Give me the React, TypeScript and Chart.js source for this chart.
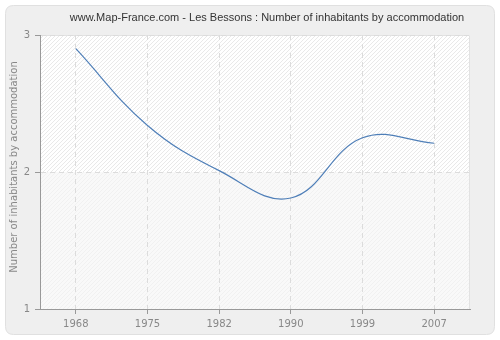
import React, { useEffect, useRef } from "react";
import { Chart, registerables } from "chart.js";

Chart.register(...registerables);

const TITLE = "www.Map-France.com - Les Bessons : Number of inhabitants by accommodation";
const Y_TITLE = "Number of inhabitants by accommodation";
const years = ["1968", "1975", "1982", "1990", "1999", "2007"];
const values = [2.9, 2.34, 2.01, 1.81, 2.25, 2.21];
const yTicks = [1, 2, 3];

const decorPlugin = {
  id: "decor",
  beforeDraw(chart: any) {
    const { ctx, chartArea, width, height } = chart;
    ctx.save();
    const r = 8;
    const x0 = 5.5, y0 = 5.5, x1 = width - 5.5, y1 = height - 5.5;
    ctx.beginPath();
    ctx.moveTo(x0 + r, y0);
    ctx.lineTo(x1 - r, y0);
    ctx.quadraticCurveTo(x1, y0, x1, y0 + r);
    ctx.lineTo(x1, y1 - r);
    ctx.quadraticCurveTo(x1, y1, x1 - r, y1);
    ctx.lineTo(x0 + r, y1);
    ctx.quadraticCurveTo(x0, y1, x0, y1 - r);
    ctx.lineTo(x0, y0 + r);
    ctx.quadraticCurveTo(x0, y0, x0 + r, y0);
    ctx.closePath();
    ctx.fillStyle = "#efefef";
    ctx.fill();
    ctx.strokeStyle = "#e0e0e0";
    ctx.lineWidth = 1;
    ctx.stroke();

    const { left, right, top, bottom } = chartArea;
    const yScale = chart.scales.y;
    const mid = yScale.getPixelForValue(2);
    const band = (t: number, b: number, bg: string, color: string) => {
      ctx.save();
      ctx.beginPath();
      ctx.rect(left, t, right - left, b - t);
      ctx.clip();
      ctx.fillStyle = bg;
      ctx.fillRect(left, t, right - left, b - t);
      ctx.strokeStyle = color;
      ctx.lineWidth = 1;
      const h = b - t;
      for (let x = left - h; x < right + h; x += 4) {
        ctx.beginPath();
        ctx.moveTo(x, b);
        ctx.lineTo(x + h, t);
        ctx.stroke();
      }
      ctx.restore();
    };
    band(top, mid, "#ffffff", "#e9e9e9");
    band(mid, bottom, "#f9f9f9", "#f1f1f1");
    ctx.strokeStyle = "#e2e2e2";
    ctx.beginPath();
    ctx.moveTo(left, top + 0.5);
    ctx.lineTo(right - 0.5, top + 0.5);
    ctx.lineTo(right - 0.5, bottom);
    ctx.stroke();
    ctx.restore();
  },
  afterDraw(chart: any) {
    const { ctx, chartArea } = chart;
    ctx.save();
    ctx.fillStyle = "#333333";
    ctx.font = "11px 'Liberation Sans', Arial, sans-serif";
    ctx.textAlign = "center";
    ctx.textBaseline = "middle";
    ctx.fillText(TITLE, 267, 18);
    ctx.fillStyle = "#888888";
    ctx.font = "10px 'DejaVu Sans', Verdana, sans-serif";
    ctx.translate(14, (chartArea.top + chartArea.bottom) / 2 - 5);
    ctx.rotate(-Math.PI / 2);
    ctx.fillText(Y_TITLE, 0, 0);
    ctx.restore();
  },
};

export default function App() {
  const ref = useRef<HTMLCanvasElement>(null);
  useEffect(() => {
    if (!ref.current) return;
    const chart = new Chart(ref.current, {
      type: "line",
      data: {
        labels: years,
        datasets: [
          {
            data: values,
            borderColor: "#4f7fb8",
            borderWidth: 1.2,
            pointRadius: 0,
            tension: 0.4,
            fill: false,
          },
        ],
      },
      options: {
        animation: false,
        responsive: false,
        devicePixelRatio: 1,
        layout: { padding: { left: 0, top: 35, right: 30, bottom: 0 } },
        plugins: {
          legend: { display: false },
          title: { display: false },
          tooltip: { enabled: false },
        },
        scales: {
          x: {
            type: "category",
            offset: true,
            afterFit: (s: any) => {
              s.height = 31;
            },
            grid: {
              offset: false,
              color: "#dcdcdc",
              tickColor: "#999999",
              tickLength: 5,
              tickBorderDash: [],
            },
            border: { color: "#999999", width: 1, dash: [5, 4] },
            ticks: {
              color: "#888888",
              font: { family: "'DejaVu Sans', Verdana, sans-serif", size: 10 },
              padding: 4,
              maxRotation: 0,
            },
          },
          y: {
            min: 1,
            max: 3,
            afterFit: (s: any) => {
              s.width = 40;
            },
            afterBuildTicks: (s: any) => {
              s.ticks = yTicks.map((v) => ({ value: v }));
            },
            grid: {
              color: "#dcdcdc",
              tickColor: "#999999",
              tickLength: 5,
              tickBorderDash: [],
            },
            border: { color: "#999999", width: 1, dash: [5, 4] },
            ticks: {
              color: "#888888",
              font: { family: "'DejaVu Sans', Verdana, sans-serif", size: 10 },
              padding: 5,
            },
          },
        },
      },
      plugins: [decorPlugin],
    });
    return () => chart.destroy();
  }, []);
  return (
    <div style={{ position: "fixed", left: 0, top: 0, width: 500, height: 340, background: "#ffffff" }}>
      <canvas ref={ref} width={500} height={340} style={{ width: 500, height: 340, display: "block" }} />
    </div>
  );
}
